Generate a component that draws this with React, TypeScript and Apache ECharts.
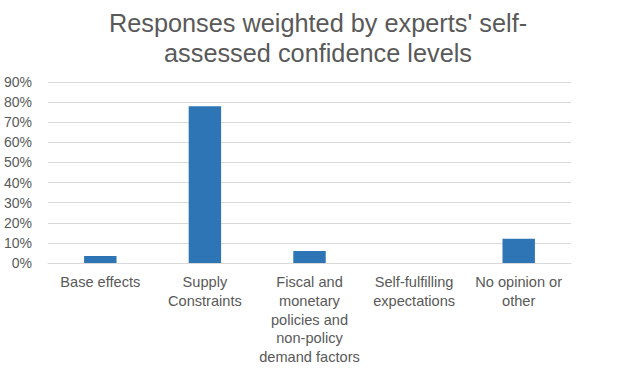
import React, { useEffect, useRef } from "react";
import * as echarts from "echarts";

const categories = [
  "Base effects",
  "Supply\nConstraints",
  "Fiscal and\nmonetary\npolicies and\nnon-policy\ndemand factors",
  "Self-fulfilling\nexpectations",
  "No opinion or\nother",
];
const values = [3.5, 78, 6, 0, 12];
const yTicks = { min: 0, max: 90, interval: 10 };
const titleText = "Responses weighted by experts' self-\nassessed confidence levels";

export default function App() {
  const ref = useRef<HTMLDivElement>(null);
  useEffect(() => {
    document.body.style.margin = "0";
    const chart = echarts.init(ref.current!, undefined, { renderer: "svg" });
    const font = "'Liberation Sans', Arial, sans-serif";
    chart.setOption({
      animation: false,
      backgroundColor: "#ffffff",
      title: {
        text: titleText,
        left: "center",
        top: 3,
        textStyle: {
          fontFamily: font,
          fontSize: 25.3,
          fontWeight: "normal",
          color: "#595959",
          lineHeight: 30,
        },
      },
      grid: { left: 48, right: 65, top: 82, bottom: 111, containLabel: false },
      xAxis: {
        type: "category",
        data: categories,
        axisTick: { show: false },
        axisLine: { lineStyle: { color: "#d9d9d9" } },
        axisLabel: {
          interval: 0,
          margin: 10,
          fontFamily: font,
          fontSize: 14.6,
          lineHeight: 18.7,
          color: "#595959",
          align: "center",
          verticalAlign: "top",
        },
      },
      yAxis: {
        type: "value",
        min: yTicks.min,
        max: yTicks.max,
        interval: yTicks.interval,
        axisLine: { show: false },
        axisTick: { show: false },
        splitLine: { lineStyle: { color: "#d9d9d9", width: 1 } },
        axisLabel: {
          margin: 16,
          fontFamily: font,
          fontSize: 14,
          color: "#595959",
          formatter: "{value}%",
        },
      },
      series: [
        {
          type: "bar",
          data: values,
          barWidth: "31%",
          itemStyle: { color: "#2E75B6" },
        },
      ],
    });
    return () => chart.dispose();
  }, []);
  return <div ref={ref} style={{ width: 636, height: 374 }} />;
}
